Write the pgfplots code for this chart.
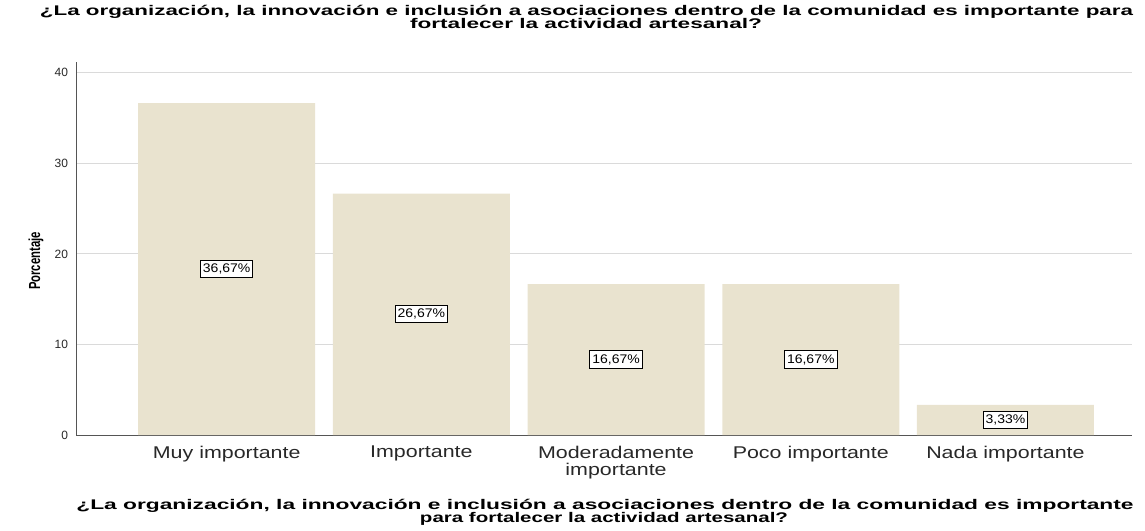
\documentclass[border=0pt]{standalone}
\usepackage{pgfplots}
\pgfplotsset{compat=1.18}
\usepackage{fontspec}
\setmainfont{Liberation Sans}
\usepackage{graphicx}

\definecolor{barc}{RGB}{233,227,207}
\definecolor{gridc}{RGB}{218,218,218}
\definecolor{axc}{RGB}{85,85,85}
\definecolor{txt}{RGB}{40,40,40}

\newcommand\fitw[2]{\resizebox{#1}{\height}{#2}}
\newcommand\cl[1]{\scalebox{1.26}[1]{#1}}
\newcommand\vl[1]{\scalebox{1.12}[1]{#1}}

\begin{document}
\begin{tikzpicture}[x=1pt,y=1pt]
\path[use as bounding box] (0,0) rectangle (1145,530);
\begin{axis}[
  at={(76pt,95pt)}, anchor=south west, scale only axis,
  width=1056pt, height=373pt,
  xmin=-0.774, xmax=4.65, ymin=0, ymax=41.2,
  axis x line*=bottom, axis y line*=left,
  axis line style={axc, line width=1pt, -},
  xtick={0,1,2,3,4},
  xticklabels={\cl{Muy importante},\cl{Importante},{\cl{Moderadamente}\\\cl{importante}},\cl{Poco importante},\cl{Nada importante}},
  ytick={0,10,20,30,40},
  major tick length=0pt,
  ymajorgrids, grid style={gridc, line width=1pt},
  /pgf/number format/assume math mode=true,
  y tick label style={font=\fontsize{12}{12}\selectfont, text=txt, xshift=-4.5pt},
  x tick label style={font=\fontsize{17}{17.5}\selectfont, text=txt, align=center, yshift=-7.5pt},
  clip=false,
]
\addplot[ybar, bar width=177pt, fill=barc, draw=none] coordinates {
  (0,36.67) (1,26.67) (2,16.67) (3,16.67) (4,3.33)
};
\addplot[only marks, mark=none, point meta=explicit symbolic,
  nodes near coords,
  every node near coord/.append style={anchor=center, draw=black, line width=0.9pt, fill=white,
    inner xsep=2.5pt, inner ysep=3.5pt, font=\fontsize{12.5}{12.5}\selectfont, text=black}]
  coordinates {
  (0,18.335) [\vl{36,67\%}]
  (1,13.335) [\vl{26,67\%}]
  (2,8.335) [\vl{16,67\%}]
  (3,8.335) [\vl{16,67\%}]
  (4,1.665) [\vl{3,33\%}]
};
\end{axis}
\node[rotate=90, font=\fontsize{16}{16}\selectfont\bfseries] at (36,269) {\fitw{58pt}{Porcentaje}};
\node[anchor=base, font=\fontsize{14}{14}\selectfont\bfseries] at (586.5,514) {\fitw{1093pt}{¿La organización, la innovación e inclusión a asociaciones dentro de la comunidad es importante para}};
\node[anchor=base, font=\fontsize{14}{14}\selectfont\bfseries] at (586,501) {\fitw{352pt}{fortalecer la actividad artesanal?}};
\node[anchor=base, font=\fontsize{14}{14}\selectfont\bfseries] at (605,21) {\fitw{1057pt}{¿La organización, la innovación e inclusión a asociaciones dentro de la comunidad es importante}};
\node[anchor=base, font=\fontsize{14}{14}\selectfont\bfseries] at (604,8) {\fitw{368pt}{para fortalecer la actividad artesanal?}};
\end{tikzpicture}
\end{document}
